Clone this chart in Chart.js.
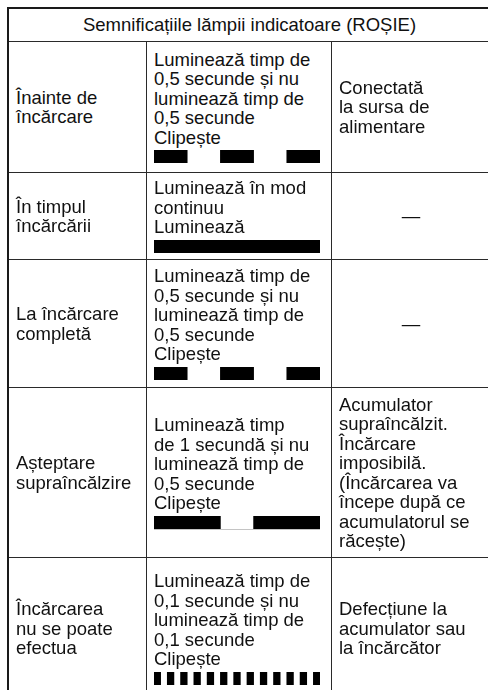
<!DOCTYPE html>
<html lang="ro">
<head>
<meta charset="utf-8">
<title>Semnificațiile lămpii indicatoare</title>
<script src="https://cdn.jsdelivr.net/npm/chart.js@4/dist/chart.umd.min.js"></script>
<style>
    html, body { margin: 0; padding: 0; background: #fff; }
    body {
        width: 488px; height: 690px; overflow: hidden; position: relative;
        font-family: "Liberation Sans", Arial, sans-serif;
        font-size: 18.5px; line-height: 19.5px; color: #111;
    }
    #legend {
        position: absolute; left: 7px; top: 7px; width: 483px;
        box-sizing: border-box;
        border-left: 2px solid #1a1a1a; border-top: 2px solid #1a1a1a;
        display: grid;
        grid-template-columns: 138px 185px 1fr;
        grid-template-rows: 33px 131px 87px 128px 170px 142px;
    }
    .cell {
        box-sizing: border-box;
        border-right: 1px solid #2a2a2a; border-bottom: 1px solid #2a2a2a;
        display: flex; flex-direction: column; justify-content: center;
        padding: 0 6px 0 7px; white-space: pre;
    }
    .head { grid-column: 1 / 4; align-items: center; }
    .dash { align-items: center; }
    .blink canvas { display: block; margin-top: 3px; }
</style>
</head>
<body>
<div id="legend"></div>
<script>
// ---- Table text ----
const title = "Semnificațiile lămpii indicatoare (ROȘIE)";

const states = [
    "Înainte de\nîncărcare",
    "În timpul\nîncărcării",
    "La încărcare\ncompletă",
    "Așteptare\nsupraîncălzire",
    "Încărcarea\nnu se poate\nefectua",
];

const patterns = [
    "Luminează timp de\n0,5 secunde și nu\nluminează timp de\n0,5 secunde\nClipește",
    "Luminează în mod\ncontinuu\nLuminează",
    "Luminează timp de\n0,5 secunde și nu\nluminează timp de\n0,5 secunde\nClipește",
    "Luminează timp\nde 1 secundă și nu\nluminează timp de\n0,5 secunde\nClipește",
    "Luminează timp de\n0,1 secunde și nu\nluminează timp de\n0,1 secunde\nClipește",
];

const meanings = [
    "Conectată\nla sursa de\nalimentare",
    "—",
    "—",
    "Acumulator\nsupraîncălzit.\nÎncărcare\nimposibilă.\n(Încărcarea va\nîncepe după ce\nacumulatorul se\nrăcește)",
    "Defecțiune la\nacumulator sau\nla încărcător",
];

// ---- Lamp "on" intervals, seconds [start, end] ----
const timeRange = [0, 2.5];

const onBlink05 = [[0, 0.5], [1, 1.5], [2, 2.5]];
const onSteady  = [[0, 2.5]];
const onBlink10 = [[0, 1], [1.5, 2.5]];
const onBlink01 = [
    [0, 0.1], [0.2, 0.3], [0.4, 0.5], [0.6, 0.7], [0.8, 0.9],
    [1.0, 1.1], [1.2, 1.3], [1.4, 1.5], [1.6, 1.7], [1.8, 1.9],
    [2.0, 2.1], [2.2, 2.3], [2.4, 2.5],
];
const lampOn = [onBlink05, onSteady, onBlink05, onBlink10, onBlink01];

// rows whose timeline shows a faint "off" baseline
const showBaseline = [false, false, false, true, false];

(function () {
    "use strict";

    const COLORS = {
        lamp: "#000000",
        baseline: "#c4c4c4",
    };

    const table = document.getElementById("legend");

    function addCell(cls, text) {
        const cell = document.createElement("div");
        cell.className = "cell " + cls;
        if (text != null) {
            const t = document.createElement("div");
            t.textContent = text;
            cell.appendChild(t);
        }
        table.appendChild(cell);
        return cell;
    }

    function drawLamp(canvas, segments, baseline) {
        new Chart(canvas, {
            type: "bar",
            data: {
                labels: ["LED"],
                datasets: [{
                    data: segments.map(s => ({ x: s, y: "LED" })),
                    backgroundColor: COLORS.lamp,
                    borderWidth: 0,
                    barPercentage: 1,
                    categoryPercentage: 1,
                }],
            },
            options: {
                indexAxis: "y",
                responsive: false,
                animation: false,
                events: [],
                layout: { padding: { top: 0, left: 0, right: 0, bottom: 1 } },
                plugins: { legend: { display: false }, tooltip: { enabled: false } },
                scales: {
                    x: {
                        type: "linear",
                        min: timeRange[0],
                        max: timeRange[1],
                        display: true,
                        grid: { display: false, drawTicks: false },
                        ticks: { display: false },
                        border: {
                            display: baseline,
                            color: COLORS.baseline,
                            width: 1,
                        },
                    },
                    y: { display: false },
                },
            },
        });
    }

    // ---- Build ----
    addCell("head", title);
    states.forEach((state, i) => {
        addCell("state", state);
        const cell = addCell("blink", patterns[i]);
        const canvas = document.createElement("canvas");
        canvas.width = 166;
        canvas.height = 14;
        cell.appendChild(canvas);
        drawLamp(canvas, lampOn[i], showBaseline[i]);
        addCell(meanings[i] === "—" ? "dash" : "meaning", meanings[i]);
    });
})();
</script>
</body>
</html>
